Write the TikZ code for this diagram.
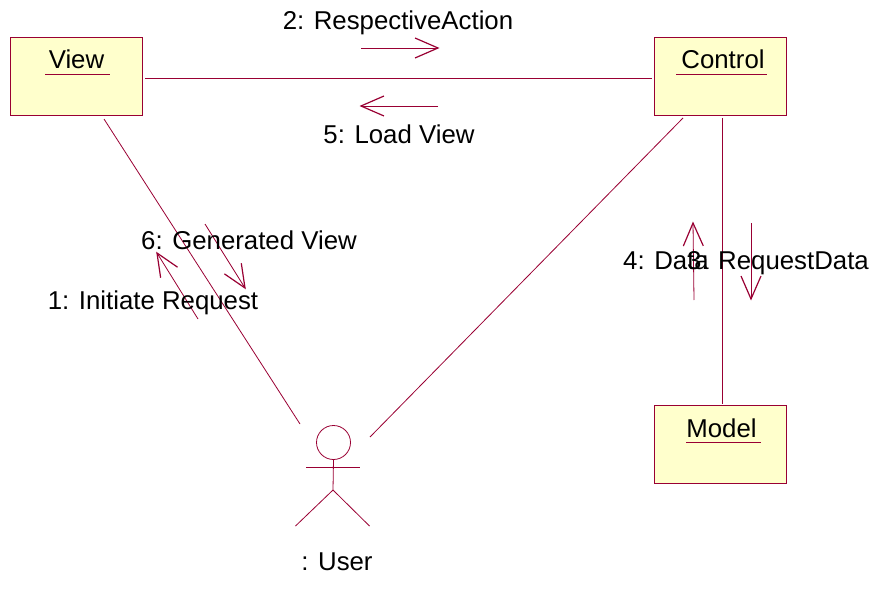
\documentclass[tikz,border=0pt]{standalone}
\usepackage{fontspec}
\setmainfont{Liberation Sans}
\usetikzlibrary{calc}
\definecolor{rose}{HTML}{990033}
\definecolor{cls}{HTML}{FFFFCC}
\tikzset{
  classbox/.style={draw=rose,fill=cls,line width=0.8pt,minimum width=132pt,minimum height=78pt,inner sep=0pt,outer sep=0pt},
  lab/.style={font=\fontsize{25.8}{30}\selectfont,text=black,inner sep=0pt,anchor=base},
  link/.style={draw=rose,line width=0.8pt},
  msg/.style={draw=rose,line width=0.8pt},
  barb/.style={draw=rose,line width=1.2pt,miter limit=10},
  under/.style={draw=rose,line width=0.8pt}
}
\begin{document}
\begin{tikzpicture}[x=1pt,y=-1pt]
\useasboundingbox (0,0) rectangle (872,591);
% classes
\node[classbox] (view) at (76,76) {};
\node[classbox] (control) at (720,76) {};
\node[classbox] (model) at (720,444) {};
\node[lab] (viewt) at (76.5,69) {View};
\node[lab] (controlt) at (723,69) {Control};
\node[lab] (modelt) at (721.5,437) {Model};
\draw[under] (45,74) -- (110,74);
\draw[under] (676,74) -- (767,74);
\draw[under] (686,442) -- (761,442);
% actor
\node[draw=rose,circle,line width=0.8pt,minimum size=34pt,inner sep=0pt,outer sep=0pt] (head) at (333.5,442.5) {};
\coordinate (hip) at (333,490);
\coordinate (armL) at (306,467);
\coordinate (armR) at (359.5,467);
\coordinate (legL) at (295.5,526);
\coordinate (legR) at (369.5,526);
\draw[link] (head.south) -- (hip) -- (legL);
\draw[link] (hip) -- (legR);
\draw[link] (armL) -- (armR);
\node[lab] (user) at (337,570) {: User};
% links
\coordinate (v1) at (145,78);
\coordinate (c1) at (652,78);
\coordinate (v2) at (104,119);
\coordinate (u1) at (300,424);
\coordinate (c2) at (683,118);
\coordinate (u2) at (370,437);
\coordinate (c3) at (722,118);
\coordinate (m3) at (722,404);
\draw[link] (v1) -- (c1);
\draw[link] (v2) -- (u1);
\draw[link] (c2) -- (u2);
\draw[link] (c3) -- (m3);
% messages
\coordinate (a2s) at (361,48); \coordinate (a2e) at (438,48);
\coordinate (a5s) at (438,106); \coordinate (a5e) at (361,106);
\coordinate (a6s) at (205,224); \coordinate (a6e) at (245,288);
\coordinate (a1s) at (198,319); \coordinate (a1e) at (157,253);
\coordinate (a4s) at (694,300); \coordinate (a4e) at (693,223);
\coordinate (a3s) at (751,223); \coordinate (a3e) at (751,299);
\foreach \s/\e in {a2s/a2e,a5s/a5e,a6s/a6e,a1s/a1e,a4s/a4e,a3s/a3e}{
  \draw[msg] (\s) -- (\e);
  \draw[barb] ($(\e)!25pt!23.5:(\s)$) -- (\e) -- ($(\e)!25pt!-23.5:(\s)$);
}
% labels
\node[lab] (l2) at (398,30) {2: RespectiveAction};
\node[lab] (l5) at (399,143) {5: Load View};
\node[lab] (l6) at (249,249) {6: Generated View};
\node[lab] (l1) at (153,309) {1: Initiate Request};
\node[lab] (l4) at (666,269) {4: Data};
\node[lab] (l3) at (778,269) {3: RequestData};
\end{tikzpicture}
\end{document}
